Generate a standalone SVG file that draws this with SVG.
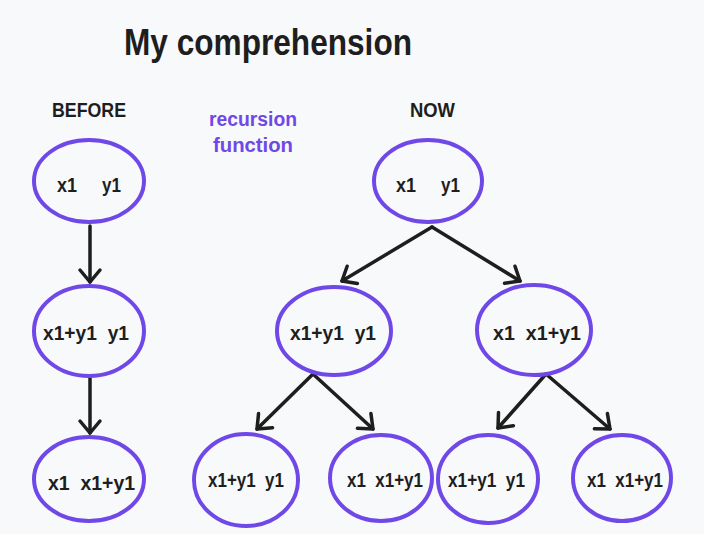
<svg xmlns="http://www.w3.org/2000/svg" width="704" height="534" viewBox="0 0 704 534">
<defs>
<style>
.bg{fill:#f8f9fa}
.node ellipse{fill:none;stroke:#7048e8;stroke-width:4}
.t{font-family:"Liberation Sans",Arial,sans-serif;font-weight:bold;fill:#1e1e1e;font-size:21px;white-space:pre}
.title{font-family:"Liberation Sans",Arial,sans-serif;font-weight:bold;fill:#1e1e1e;font-size:36px}
.p{font-family:"Liberation Sans",Arial,sans-serif;font-weight:bold;fill:#7048e8;font-size:20px;text-anchor:middle}
.edge{fill:none;stroke:#1e1e1e;stroke-width:3.5;stroke-linecap:round;marker-end:url(#ah)}
</style>
<marker id="ah" markerUnits="userSpaceOnUse" viewBox="-16 -14 20 28" markerWidth="20" markerHeight="28" refX="0" refY="0" orient="auto">
<path d="M-12,-10 L0,0 L-12,10" fill="none" stroke="#1e1e1e" stroke-width="3.5" stroke-linecap="round" stroke-linejoin="round"/>
</marker>
</defs>
<rect class="bg" x="0" y="0" width="704" height="534"/>
<g id="labels">
<text class="title" x="124" y="55" textLength="288" lengthAdjust="spacingAndGlyphs">My comprehension</text>
<text class="t" x="52" y="117" textLength="74" lengthAdjust="spacingAndGlyphs">BEFORE</text>
<text class="t" x="410" y="117" textLength="45" lengthAdjust="spacingAndGlyphs">NOW</text>
<text class="p" x="253" y="126" textLength="88" lengthAdjust="spacingAndGlyphs">recursion</text>
<text class="p" x="253" y="152" textLength="80" lengthAdjust="spacingAndGlyphs">function</text>
</g>
<g id="connectors">
<line class="edge" x1="90" y1="226" x2="90" y2="282"/>
<line class="edge" x1="90" y1="378" x2="90" y2="433"/>
<line class="edge" x1="432" y1="227" x2="342" y2="281"/>
<line class="edge" x1="432" y1="227" x2="520" y2="281"/>
<line class="edge" x1="313" y1="374" x2="257" y2="429"/>
<line class="edge" x1="313" y1="374" x2="373" y2="429"/>
<line class="edge" x1="546" y1="374" x2="498" y2="428"/>
<line class="edge" x1="546" y1="374" x2="610" y2="429"/>
</g>
<g id="before-1" class="node">
<ellipse cx="89" cy="181" rx="55" ry="41"/>
<text class="t" x="57" y="192" textLength="20" lengthAdjust="spacingAndGlyphs">x1</text>
<text class="t" x="102" y="192" textLength="19" lengthAdjust="spacingAndGlyphs">y1</text>
</g>
<g id="before-2" class="node">
<ellipse cx="89" cy="331" rx="55" ry="45"/>
<text class="t" x="43" y="340" textLength="86" lengthAdjust="spacingAndGlyphs">x1+y1  y1</text>
</g>
<g id="before-3" class="node">
<ellipse cx="89" cy="479" rx="55" ry="42"/>
<text class="t" x="48" y="490" textLength="87" lengthAdjust="spacingAndGlyphs">x1  x1+y1</text>
</g>
<g id="now-root" class="node">
<ellipse cx="428" cy="181" rx="54" ry="41"/>
<text class="t" x="396" y="192" textLength="20" lengthAdjust="spacingAndGlyphs">x1</text>
<text class="t" x="441" y="192" textLength="19" lengthAdjust="spacingAndGlyphs">y1</text>
</g>
<g id="now-left" class="node">
<ellipse cx="334" cy="331" rx="57" ry="44"/>
<text class="t" x="290" y="340" textLength="86" lengthAdjust="spacingAndGlyphs">x1+y1  y1</text>
</g>
<g id="now-right" class="node">
<ellipse cx="534" cy="330" rx="57" ry="45"/>
<text class="t" x="493" y="340" textLength="88" lengthAdjust="spacingAndGlyphs">x1  x1+y1</text>
</g>
<g id="now-ll" class="node">
<ellipse cx="246" cy="480" rx="52" ry="46"/>
<text class="t" x="208" y="487" textLength="76" lengthAdjust="spacingAndGlyphs">x1+y1  y1</text>
</g>
<g id="now-lr" class="node">
<ellipse cx="381" cy="478" rx="51" ry="43"/>
<text class="t" x="347" y="487" textLength="76" lengthAdjust="spacingAndGlyphs">x1  x1+y1</text>
</g>
<g id="now-rl" class="node">
<ellipse cx="488" cy="479" rx="50" ry="44"/>
<text class="t" x="448" y="487" textLength="77" lengthAdjust="spacingAndGlyphs">x1+y1  y1</text>
</g>
<g id="now-rr" class="node">
<ellipse cx="622" cy="478" rx="49" ry="43"/>
<text class="t" x="587" y="487" textLength="76" lengthAdjust="spacingAndGlyphs">x1  x1+y1</text>
</g>
</svg>
